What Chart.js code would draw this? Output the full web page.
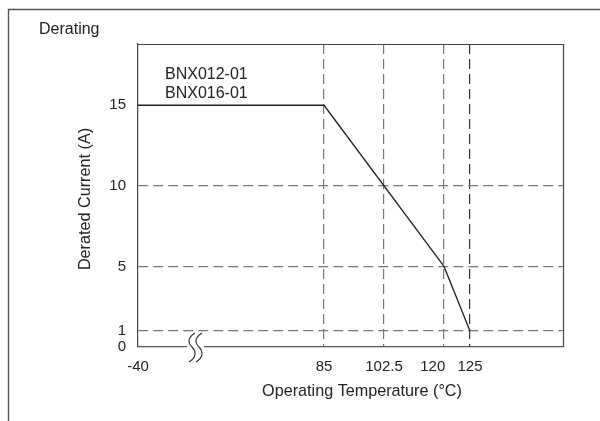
<!DOCTYPE html>
<html>
<head>
<meta charset="utf-8">
<script src="https://cdn.jsdelivr.net/npm/chart.js@4.4.1/dist/chart.umd.min.js"></script>
<style>
  html, body { margin: 0; padding: 0; background: #fff; }
  #wrap { width: 600px; height: 421px; }
</style>
</head>
<body>
<div id="wrap"><canvas id="derating" width="600" height="421"></canvas></div>
<script>
/* Derating curve - BNX012-01 / BNX016-01 */

// data
const partNames    = ['BNX012-01', 'BNX016-01'];
const tempC        = [-40, 85, 120, 125];     // operating temperature (°C)
const currentA     = [15, 15, 5, 1];          // derated current (A)
const tempTicks    = [-40, 85, 102.5, 120, 125];
const currentTicks = [0, 1, 5, 10, 15];

// the x axis is broken after -40, so it is mapped piecewise: [temp, fraction of axis]
const axisStops = [[-40, 0], [85, 0.4366], [120, 0.7183], [125, 0.7793], [140, 1]];

const FONT = "'Liberation Sans', Arial, sans-serif";
const INK = '#222';

// linear scale with a piecewise mapping (broken axis)
class BrokenScale extends Chart.LinearScale {
  getPixelForValue(value) {
    if (value === null || value === undefined) return NaN;
    let s = axisStops;
    let i = 1;
    while (i < s.length - 1 && value > s[i][0]) i++;
    const a = s[i - 1], b = s[i];
    const dec = a[1] + (value - a[0]) / (b[0] - a[0]) * (b[1] - a[1]);
    return this.getPixelForDecimal(dec);
  }
}
BrokenScale.id = 'broken';
BrokenScale.defaults = Chart.LinearScale.defaults;
Chart.register(BrokenScale);

// frame, labels, titles and the axis-break mark
const decorations = {
  id: 'decorations',
  afterDraw(chart) {
    const ctx = chart.ctx;
    const a = chart.chartArea;
    ctx.save();

    // outer frame (only top/left visible)
    ctx.strokeStyle = '#555';
    ctx.lineWidth = 1.4;
    ctx.beginPath();
    ctx.moveTo(8.5, 421);
    ctx.lineTo(8.5, 9.5);
    ctx.lineTo(600, 9.5);
    ctx.stroke();

    // top and right side of plot box
    ctx.strokeStyle = '#444';
    ctx.lineWidth = 1.2;
    ctx.beginPath();
    ctx.moveTo(a.left, a.top + 0.5);
    ctx.lineTo(a.right - 0.5, a.top + 0.5);
    ctx.lineTo(a.right - 0.5, a.bottom);
    ctx.stroke();

    // axis break
    ctx.fillStyle = '#fff';
    ctx.fillRect(187, a.bottom - 3, 17, 6);
    ctx.strokeStyle = '#333';
    ctx.lineWidth = 1.1;
    [192, 199].forEach(x => {
      ctx.beginPath();
      ctx.moveTo(x + 3, a.bottom - 14);
      ctx.bezierCurveTo(x - 5, a.bottom - 9, x - 4, a.bottom - 4, x, a.bottom);
      ctx.bezierCurveTo(x + 4, a.bottom + 4, x + 5, a.bottom + 10, x - 3, a.bottom + 15);
      ctx.stroke();
    });

    ctx.fillStyle = INK;
    ctx.textBaseline = 'alphabetic';
    ctx.textAlign = 'left';
    ctx.font = '16px ' + FONT;
    ctx.fillText('Derating', 39, 34);
    ctx.fillText(partNames[0], 165, 79);
    ctx.fillText(partNames[1], 165, 98);

    ctx.font = '16.2px ' + FONT;
    ctx.textAlign = 'center';
    ctx.fillText('Operating Temperature (°C)', 362, 396);

    ctx.translate(89.5, 199);
    ctx.rotate(-Math.PI / 2);
    ctx.fillText('Derated Current (A)', 0, 0);
    ctx.restore();
  }
};

function init() {
  new Chart(document.getElementById('derating'), {
    type: 'line',
    data: {
      datasets: [{
        data: tempC.map((t, i) => ({ x: t, y: currentA[i] })),
        borderColor: INK,
        borderWidth: 1.3,
        pointRadius: 0,
        tension: 0,
        fill: false
      }]
    },
    plugins: [decorations],
    options: {
      responsive: false,
      animation: false,
      events: [],
      layout: { padding: { top: 44, right: 36, left: 0, bottom: 0 } },
      plugins: { legend: { display: false }, tooltip: { enabled: false } },
      scales: {
        x: {
          type: 'broken',
          min: -40, max: 140,
          afterFit: s => { s.height = 74; },
          afterBuildTicks: s => { s.ticks = tempTicks.map(v => ({ value: v })); },
          ticks: {
            autoSkip: false, maxRotation: 0, padding: 11,
            color: INK, font: { family: FONT, size: 15 },
            // "120" sits left of its line in the original, so pad it on the right
            callback: v => v === 120 ? '120\u2002\u2002\u2002' : String(v)
          },
          grid: {
            drawTicks: false,
            lineWidth: 1.2,
            color: c => (!c.tick || c.tick.value === -40) ? 'rgba(0,0,0,0)' : (c.tick.value >= 125 ? '#333' : '#777')
          },
          border: { display: true, color: '#555', width: 1.2, dash: [10, 5] }
        },
        y: {
          type: 'linear',
          min: 0, max: 18.8,
          afterFit: s => { s.width = 138; },
          afterBuildTicks: s => { s.ticks = currentTicks.map(v => ({ value: v })); },
          ticks: {
            autoSkip: false, padding: 12,
            color: INK, font: { family: FONT, size: 15 },
            callback: v => String(v)
          },
          grid: {
            drawTicks: false,
            lineWidth: 1.2,
            color: c => (c.tick && [1, 5, 10].includes(c.tick.value)) ? '#777' : 'rgba(0,0,0,0)'
          },
          border: { display: true, color: '#444', width: 1.2, dash: [10, 5] }
        }
      }
    }
  });
}

document.addEventListener('DOMContentLoaded', init);
</script>
</body>
</html>
